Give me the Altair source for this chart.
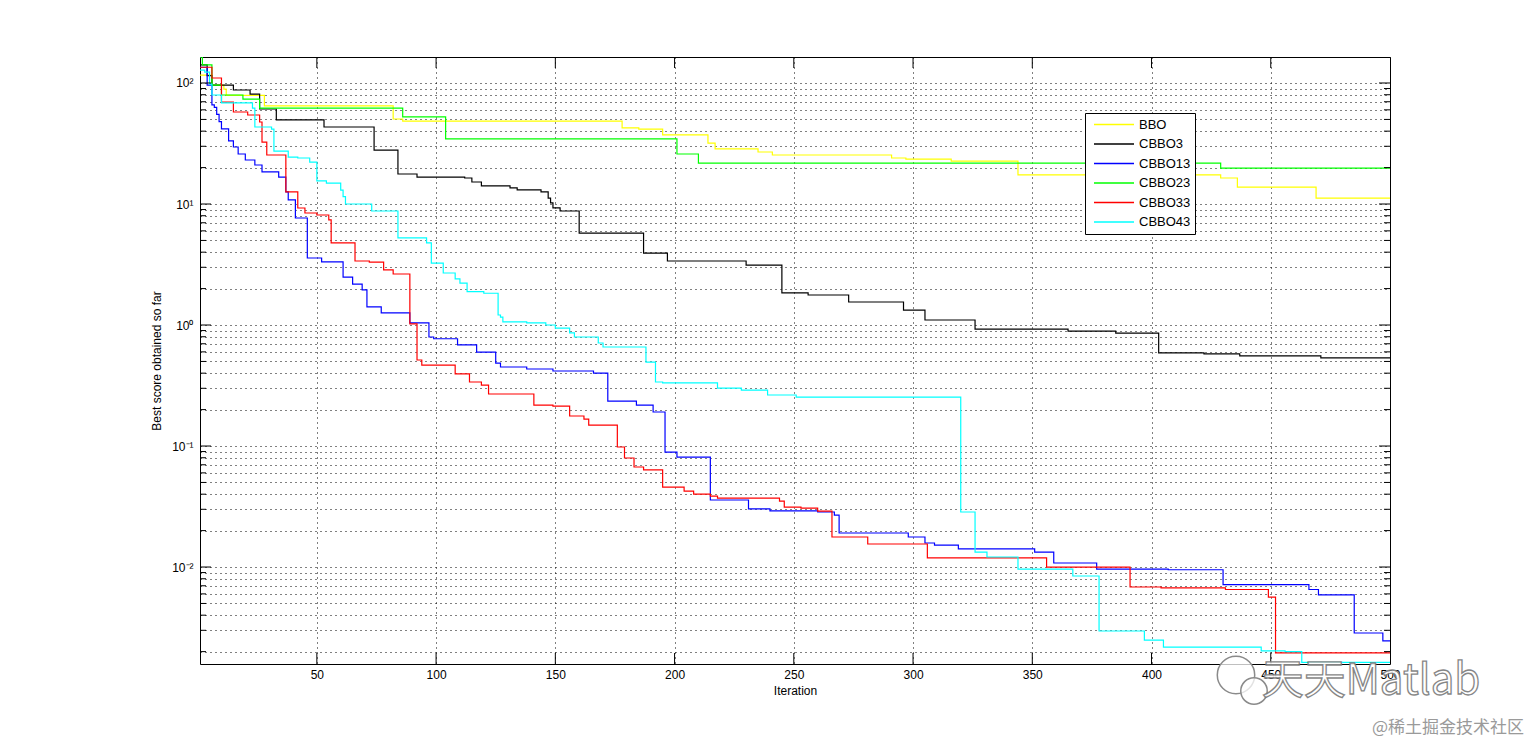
import altair as alt
import pandas as pd

SERIES = ["BBO", "CBBO3", "CBBO13", "CBBO23", "CBBO33", "CBBO43"]
COLORS = ["#ffff00", "#000000", "#0000ff", "#00ff00", "#ff0000", "#00ffff"]

# step points (iteration at which the best score changes, new best score)
bbo_iter = [1, 6, 11, 12, 28, 82, 86, 178, 185, 195, 214, 217, 235, 241, 291, 297, 316, 344, 429, 436, 469, 500]
bbo_val = [116, 96, 89, 79, 64.6, 50.4, 48.5, 42.5, 41.6, 37.2, 31.9, 28.5, 26.9, 25.4, 24.0, 23.5, 22.6, 17.4,
           16.4, 13.8, 11.2, 11.2]

cbbo3_iter = [1, 4, 6, 15, 22, 26, 33, 53, 74, 84, 92, 112, 115, 119, 131, 134, 144, 147, 148, 149, 152, 160, 187,
              197, 230, 245, 256, 273, 296, 305, 326, 365, 385, 403, 422, 437, 471, 500]
cbbo3_val = [141, 115, 96, 87.5, 81, 61, 49.5, 43.3, 27.9, 17.7, 16.7, 16.4, 15.2, 14.1, 13.6, 13.1, 12.6, 11.2,
             10.2, 9.3, 8.75, 5.75, 3.93, 3.38, 3.13, 1.84, 1.77, 1.55, 1.33, 1.10, 0.926, 0.891, 0.858, 0.588,
             0.577, 0.555, 0.535, 0.535]

cbbo13_iter = [1, 4, 6, 7, 8, 9, 10, 13, 15, 17, 20, 24, 27, 34, 37, 38, 41, 46, 52, 61, 65, 69, 71, 77, 89, 97, 99,
               109, 117, 125, 127, 138, 149, 166, 172, 184, 191, 196, 201, 215, 231, 240, 260, 267, 269, 298, 305,
               309, 319, 351, 359, 377, 407, 430, 466, 470, 485, 497, 500]
cbbo13_val = [135, 96, 66, 63, 55, 48, 41.7, 33.2, 29.6, 25.9, 23.1, 21.0, 18.4, 16.7, 12.6, 10.8, 7.66, 3.58, 3.32,
              2.49, 2.18, 1.95, 1.41, 1.26, 1.04, 0.796, 0.77, 0.684, 0.598, 0.485, 0.45, 0.433, 0.417, 0.40, 0.235,
              0.218, 0.191, 0.0891, 0.081, 0.0358, 0.0302, 0.0291, 0.0285, 0.0269, 0.0191, 0.0177, 0.0158, 0.0152,
              0.0141, 0.0133, 0.0108, 0.0096, 0.0095, 0.00716, 0.00652, 0.00588, 0.00285, 0.00245, 0.00245]

cbbo23_iter = [1, 2, 6, 10, 19, 26, 86, 104, 201, 210, 429, 500]
cbbo23_val = [164, 141, 96, 79.6, 73.7, 62.1, 52.4, 34.5, 25.9, 21.8, 19.8, 19.8]

cbbo33_iter = [1, 6, 10, 15, 21, 26, 27, 29, 37, 42, 45, 50, 55, 56, 66, 72, 78, 82, 89, 92, 94, 108, 114, 119, 122,
               141, 149, 156, 162, 164, 176, 179, 183, 187, 195, 204, 208, 215, 218, 244, 246, 253, 260, 266, 281,
               306, 356, 391, 404, 431, 449, 452, 500]
cbbo33_val = [135, 110, 69.6, 57.6, 54.4, 47.6, 32.5, 25.4, 12.6, 9.27, 8.43, 8.11, 7.38, 4.77, 3.38, 3.31, 2.85,
              2.64, 1.02, 0.514, 0.467, 0.394, 0.338, 0.319, 0.269, 0.218, 0.214, 0.177, 0.167, 0.149, 0.0982,
              0.0796, 0.0671, 0.0634, 0.0458, 0.0424, 0.0401, 0.0386, 0.0371, 0.035, 0.0313, 0.0307, 0.029, 0.0177,
              0.0155, 0.0119, 0.0100, 0.00684, 0.00672, 0.00652, 0.00565, 0.00195, 0.00195]

cbbo43_iter = [1, 3, 5, 6, 10, 23, 24, 31, 32, 38, 42, 47, 50, 54, 60, 61, 62, 73, 84, 96, 98, 103, 108, 110, 113,
               120, 126, 127, 128, 138, 146, 150, 156, 158, 168, 170, 188, 192, 195, 218, 228, 239, 251, 320, 326,
               331, 344, 367, 378, 397, 405, 446, 456, 463, 500]
cbbo43_val = [128, 123, 98, 79.6, 68.4, 62.1, 43.3, 41.6, 27.4, 24.4, 24.0, 22.2, 15.5, 14.9, 13.0, 11.5, 10.0, 8.75,
              5.24, 4.77, 3.25, 2.69, 2.41, 2.22, 1.89, 1.83, 1.21, 1.16, 1.06, 1.04, 1.0, 0.944, 0.86, 0.796, 0.71,
              0.658, 0.494, 0.338, 0.332, 0.301, 0.29, 0.264, 0.254, 0.0285, 0.0133, 0.0121, 0.0096, 0.00843,
              0.00296, 0.00249, 0.00218, 0.00203, 0.0020, 0.00163, 0.00163]

x_ticks = [50, 100, 150, 200, 250, 300, 350, 400, 450, 500]
y_decades = [0.01, 0.1, 1, 10, 100]
y_minors = [round(m * d, 10) for d in [0.001, 0.01, 0.1, 1, 10] for m in range(2, 10)]

X_TITLE = "Iteration"
Y_TITLE = "Best score obtained so far"
WATERMARK = "天天Matlab"
SITE = "@稀土掘金技术社区"

all_iter = [bbo_iter, cbbo3_iter, cbbo13_iter, cbbo23_iter, cbbo33_iter, cbbo43_iter]
all_val = [bbo_val, cbbo3_val, cbbo13_val, cbbo23_val, cbbo33_val, cbbo43_val]
rows = []
for name, its, vs in zip(SERIES, all_iter, all_val):
    for i, v in zip(its, vs):
        rows.append({"series": name, "iter": i, "value": v})
df = pd.DataFrame(rows)

W, H = 1190, 607
FONT = "Liberation Sans"

xscale = alt.Scale(domain=[1, 500], nice=False, zero=False)
yscale = alt.Scale(type="log", domain=[0.00158, 164], nice=False)

xaxis = alt.Axis(values=x_ticks, grid=True, gridDash=[1, 4], gridColor="#000", gridOpacity=1, ticks=False,
                 domain=False, labelPadding=5, labelFont=FONT, labelFontSize=12, labelColor="#000",
                 labelFlush=False, labelOverlap=False, title=X_TITLE, titleFont=FONT, titleFontSize=12,
                 titleFontWeight="normal", titleColor="#000", titlePadding=5)
label_expr = ("datum.value == 100 ? '10²' : datum.value == 10 ? '10¹' : datum.value == 1 ? '10⁰' : "
              "datum.value == 0.1 ? '10⁻¹' : datum.value == 0.01 ? '10⁻²' : ''")
yaxis = alt.Axis(values=y_decades + y_minors, labelExpr=label_expr, grid=True, gridDash=[1, 4], gridColor="#000",
                 gridOpacity=1, ticks=False, domain=False, labelPadding=7, labelFont=FONT, labelFontSize=12,
                 labelColor="#000", labelFlush=False, labelOverlap=False, labelBound=False, title=Y_TITLE,
                 titleFont=FONT, titleFontSize=12, titleFontWeight="normal", titleColor="#000", titlePadding=8)

lines = alt.Chart(df).mark_line(interpolate="step-after", strokeWidth=1.2, clip=True).encode(
    x=alt.X("iter:Q", scale=xscale, axis=xaxis),
    y=alt.Y("value:Q", scale=yscale, axis=yaxis),
    color=alt.Color("series:N", scale=alt.Scale(domain=SERIES, range=COLORS), sort=SERIES,
                    legend=alt.Legend(title=None, orient="none", legendX=885, legendY=56, symbolType="stroke",
                                      symbolSize=1600, symbolStrokeWidth=1.5, clipHeight=15, rowPadding=4.5,
                                      padding=4, symbolOffset=4, strokeColor="#000", fillColor="#fff",
                                      labelFont=FONT, labelFontSize=13, labelColor="#000", labelOffset=4,
                                      cornerRadius=0)),
)

ydec = pd.DataFrame({"tv": y_decades})
ymin_ = pd.DataFrame({"tv": y_minors})
xt = pd.DataFrame({"xt": x_ticks[:-1]})

def yticks(data, x0, x1):
    return alt.Chart(data).mark_rule(color="#000", strokeWidth=1).encode(
        y=alt.Y("tv:Q", scale=yscale, axis=yaxis), x=alt.value(x0), x2=alt.value(x1))

def xticks(y0, y1):
    return alt.Chart(xt).mark_rule(color="#000", strokeWidth=1).encode(
        x=alt.X("xt:Q", scale=xscale, axis=xaxis), y=alt.value(y0), y2=alt.value(y1))

# watermark (logo bubbles + text)
one = pd.DataFrame({"k": [0]})
bubble_big = alt.Chart(one).mark_point(shape="circle", size=1400, filled=True, fill="#ffffff", fillOpacity=0.75,
                                       stroke="#8a8a8a", strokeWidth=1.5).encode(
    x=alt.value(1036), y=alt.value(618))
bubble_small = alt.Chart(one).mark_point(shape="circle", size=700, filled=True, fill="#ffffff", fillOpacity=0.75,
                                         stroke="#8a8a8a", strokeWidth=1.5).encode(
    x=alt.value(1054), y=alt.value(634))
wm = alt.Chart(pd.DataFrame({"t": [WATERMARK]})).mark_text(
    font="Noto Sans CJK SC", fontSize=42, fill="#ffffff", stroke="#7a7a7a", strokeWidth=1.3, opacity=0.9,
    align="center", baseline="middle").encode(x=alt.value(1171), y=alt.value(624), text="t:N")
site = alt.Chart(pd.DataFrame({"t": [SITE]})).mark_text(
    font="Noto Sans CJK SC", fontSize=17, color="#9a9a9a", align="center", baseline="middle").encode(
    x=alt.value(1248), y=alt.value(671), text="t:N")

chart = alt.layer(
    lines,
    yticks(ydec, 0, 11), yticks(ymin_, 0, 6), yticks(ydec, W, W - 11), yticks(ymin_, W, W - 6),
    xticks(H, H - 11), xticks(0, 11),
    bubble_big, bubble_small, wm, site,
).properties(
    width=W, height=H, background="white",
    autosize=alt.AutoSizeParams(type="none"),
    padding={"left": 192, "top": 49, "right": 139, "bottom": 74},
).configure_view(stroke="#000", strokeWidth=1)

chart.save("out.html", embed_options={"renderer": "svg", "actions": False})
